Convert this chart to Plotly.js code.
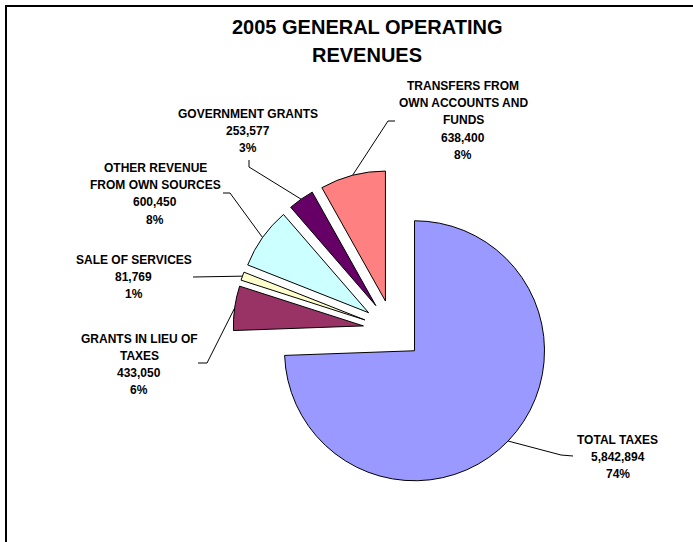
<!DOCTYPE html>
<html>
<head>
<meta charset="utf-8">
<script src="https://cdn.plot.ly/plotly-3.0.1.min.js"></script>
<style>html,body{margin:0;padding:0;background:#fff;}#chart{width:693px;height:542px;}</style>
</head>
<body>
<div id="chart"></div>
<script>
// ---- data ----
const categories = ['TOTAL TAXES', 'GRANTS IN LIEU OF<br>TAXES', 'SALE OF SERVICES', 'OTHER REVENUE<br>FROM OWN SOURCES', 'GOVERNMENT GRANTS', 'TRANSFERS FROM<br>OWN ACCOUNTS AND<br>FUNDS'];
const values = [5842894, 433050, 81769, 600450, 253577, 638400];
const colors = ['#9999FF', '#993366', '#FFFFCC', '#CCFFFF', '#660066', '#FF8080'];
const titleLines = ['2005 GENERAL OPERATING', 'REVENUES'];

// ---- layout (pixels) ----
const W = 693, H = 542;
const CX = 393, CY = 330, R = 130, PULL = 0.23;
const BOX = R * (1 + PULL);
const FONT = '"Liberation Sans", Arial, sans-serif';
const labelTop = [[617.5, 439.5], [139, 338.5], [133.5, 259.5], [155, 168], [248.5, 114], [463, 86]];
const LINE_STEP = 17.2;
const leaderElbows = [
  [[573, 456], [561, 455]],
  [[198, 363], [207, 363]],
  [[193, 277]],
  [[223, 193], [230, 193]],
  [[249, 160], [249, 167]],
  [[395, 121], [388, 121]]
];

const px = x => x / W;
const py = y => 1 - y / H;

const total = values.reduce((a, b) => a + b, 0);
const annotations = [];
const shapes = [];

// title
titleLines.forEach((t, i) => {
  annotations.push({
    text: '<b>' + t + '</b>', xref: 'paper', yref: 'paper',
    x: px(367), y: py(27 + i * 28), xanchor: 'center', yanchor: 'middle',
    showarrow: false, font: {family: FONT, size: 20, color: '#000'}
  });
});

// labels and leader lines
let cum = 0;
values.forEach((v, i) => {
  const frac = v / total;
  const mid = (cum + frac / 2) * 2 * Math.PI;
  cum += frac;
  const lines = categories[i].split('<br>').concat([v.toLocaleString('en-US'), Math.round(frac * 100) + '%']);
  lines.forEach((ln, j) => {
    annotations.push({
      text: '<b>' + ln + '</b>', xref: 'paper', yref: 'paper',
      x: px(labelTop[i][0]), y: py(labelTop[i][1] + j * LINE_STEP),
      xanchor: 'center', yanchor: 'middle', showarrow: false,
      font: {family: FONT, size: 12, color: '#000'}
    });
  });
  const end = [CX + BOX * Math.sin(mid), CY - BOX * Math.cos(mid)];
  const pts = leaderElbows[i].concat([end]);
  for (let k = 0; k < pts.length - 1; k++) {
    shapes.push({
      type: 'line', xref: 'paper', yref: 'paper',
      x0: px(pts[k][0]), y0: py(pts[k][1]), x1: px(pts[k + 1][0]), y1: py(pts[k + 1][1]),
      line: {color: '#000', width: 1}
    });
  }
});

// chart border
shapes.push({
  type: 'rect', xref: 'paper', yref: 'paper',
  x0: px(6), y0: -0.05, x1: 1.05, y1: py(6),
  line: {color: '#000', width: 2}
});

const trace = {
  type: 'pie',
  labels: categories,
  values: values,
  marker: {colors: colors, line: {color: '#000', width: 1}},
  sort: false,
  direction: 'clockwise',
  rotation: 0,
  pull: PULL,
  textinfo: 'none',
  hoverinfo: 'label+value+percent',
  showlegend: false,
  domain: {x: [px(CX - BOX), px(CX + BOX)], y: [py(CY + BOX), py(CY - BOX)]}
};

const layout = {
  width: W, height: H,
  margin: {l: 0, r: 0, t: 0, b: 0},
  paper_bgcolor: '#fff', plot_bgcolor: '#fff',
  showlegend: false,
  annotations: annotations,
  shapes: shapes,
  font: {family: FONT}
};

Plotly.newPlot('chart', [trace], layout, {displayModeBar: false, staticPlot: true});
</script>
</body>
</html>
